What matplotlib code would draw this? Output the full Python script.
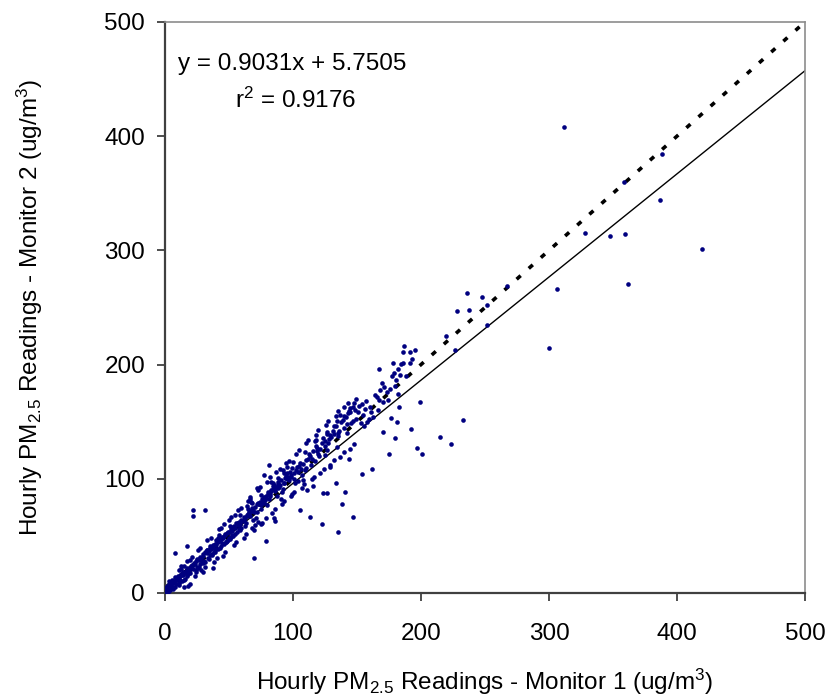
import matplotlib
matplotlib.use("Agg")
import matplotlib.pyplot as plt

plt.rcParams['font.family'] = ['Liberation Sans', 'DejaVu Sans']
plt.rcParams['mathtext.fontset'] = 'custom'
plt.rcParams['mathtext.rm'] = 'Liberation Sans'
plt.rcParams['mathtext.it'] = 'Liberation Sans:italic'

# Monitor 1 (x) vs Monitor 2 (y) hourly PM2.5
x_low = [0.4, 7.2, 13.5, 2.1, 18.7, 4.8, 10.9, 16.2, 1.3, 8.6,
         20.4, 5.9, 12.1, 3.3, 15.4, 9.7, 19.6, 6.5, 11.8, 0.9,
         14.3, 17.5, 2.7, 21.2, 7.9, 13.0, 4.1, 10.2, 16.9, 1.8,
         19.0, 6.1, 12.7, 8.9, 3.8, 15.8, 21.8, 5.3, 11.2, 17.9,
         9.3, 2.4, 14.8, 20.0, 6.9, 13.9, 0.6, 10.6, 18.3, 4.4,
         8.0, 17.0, 19.3, 21.6, 21.6, 31.0, 3.0, 12.4, 15.0, 7.5]
y_low = [1.2, 9.8, 16.1, 0.5, 20.9, 7.3, 8.4, 19.2, 3.6, 11.7,
         23.8, 3.1, 14.6, 6.2, 12.0, 13.1, 17.4, 8.8, 10.3, 4.9,
         18.5, 15.2, 1.8, 24.9, 5.6, 10.7, 9.0, 14.9, 21.6, 0.2,
         19.9, 5.1, 16.8, 7.6, 2.7, 17.7, 21.3, 11.4, 13.5, 18.0,
         12.6, 7.0, 11.1, 22.4, 9.4, 15.7, 2.3, 6.8, 16.4, 4.0,
         35.3, 41.4, 7.9, 72.7, 67.7, 72.7, 10.1, 21.0, 24.0, 14.0]

x_b = [22.7, 35.1, 48.3, 26.2, 57.4, 31.8, 44.0, 39.5, 23.9, 52.6,
       29.3, 41.7, 55.0, 34.4, 46.9, 27.6, 59.2, 37.8, 50.1, 24.8,
       43.3, 32.5, 56.1, 28.9, 47.6, 38.2, 53.9, 25.7, 40.6, 49.4,
       30.4, 58.3, 36.0, 45.2, 22.1, 51.7, 33.6, 42.8, 27.0, 54.5,
       39.0, 48.8, 31.1, 57.9, 36.7, 44.6, 24.3, 53.2, 29.8, 41.2,
       50.8, 35.6, 59.7, 26.8, 46.1, 38.7, 55.6, 32.9, 43.9, 23.4,
       52.1, 30.0, 47.2, 37.3, 58.8, 28.2, 40.1, 49.9, 34.0, 56.7,
       25.1, 45.7, 33.0, 51.3, 42.2, 28.5, 54.1, 36.4, 47.9, 30.9,
       57.0, 39.9, 24.5, 44.8, 52.9, 35.3, 26.5, 49.0, 41.4, 58.0]
y_b = [26.4, 33.2, 52.7, 22.9, 61.3, 35.7, 41.1, 46.3, 20.2, 50.4,
       33.8, 47.9, 56.8, 30.1, 51.5, 25.2, 63.7, 41.9, 48.0, 29.6,
       46.8, 37.4, 53.2, 27.1, 44.3, 35.9, 58.6, 21.6, 44.9, 53.1,
       28.4, 60.2, 40.7, 48.8, 24.5, 55.9, 31.0, 39.6, 31.7, 51.8,
       43.2, 45.6, 36.2, 62.5, 34.5, 49.3, 27.9, 57.4, 26.3, 45.0,
       47.7, 38.8, 57.1, 29.8, 43.0, 36.1, 60.9, 38.0, 47.5, 25.8,
       54.4, 32.6, 50.6, 39.2, 55.3, 30.7, 38.1, 53.7, 37.0, 59.9,
       22.4, 48.1, 35.0, 49.2, 45.9, 19.7, 57.9, 33.6, 44.7, 27.5,
       61.0, 42.4, 18.1, 43.5, 50.0, 39.4, 29.0, 46.4, 38.6, 56.2]

x_c = [60.8, 77.4, 92.1, 65.3, 84.7, 70.9, 97.6, 63.2, 88.0, 74.5,
       81.3, 67.8, 95.0, 72.2, 86.4, 61.9, 79.7, 90.6, 68.5, 83.0,
       98.8, 75.8, 64.4, 93.3, 80.1, 71.6, 87.2, 62.6, 96.4, 76.9,
       85.5, 69.1, 91.4, 66.7, 82.2, 73.8, 99.5, 78.6, 89.3, 63.9,
       94.2, 70.3, 84.0, 61.4, 77.0, 87.9, 66.1, 92.8, 74.9, 80.8,
       97.0, 68.0, 85.9, 72.7, 90.0, 64.8, 79.2, 95.7, 69.7, 82.7,
       88.6, 75.3, 62.2, 93.9, 78.1, 86.8, 67.2, 98.2, 73.2, 81.8,
       63.7, 66.5, 69.8, 69.8, 74.7, 79.0, 86.0, 83.2, 88.0, 92.0,
       71.5, 77.0, 81.5, 65.0, 73.0, 95.0, 99.0, 68.0, 85.0, 90.5]
y_c = [63.1, 84.3, 91.0, 71.2, 93.8, 66.0, 106.2, 61.0, 95.6, 79.8,
       81.9, 74.0, 99.7, 70.5, 92.2, 66.4, 77.3, 98.9, 63.5, 89.1,
       103.4, 82.6, 68.7, 96.1, 88.8, 78.3, 84.6, 58.6, 101.9, 80.0,
       94.5, 73.1, 88.2, 70.9, 86.3, 77.5, 109.1, 85.1, 92.9, 67.8,
       102.5, 75.6, 91.4, 64.3, 78.9, 97.3, 67.2, 96.0, 73.6, 87.0,
       99.2, 72.8, 89.7, 79.0, 94.8, 69.6, 83.4, 104.7, 71.0, 90.3,
       91.6, 76.7, 65.9, 100.8, 81.2, 93.0, 71.9, 101.2, 77.8, 84.9,
       76.0, 82.5, 31.0, 55.0, 60.5, 45.8, 63.3, 97.0, 101.0, 108.0,
       92.0, 103.5, 112.0, 73.5, 62.0, 110.5, 87.0, 79.0, 66.0, 82.0]

x_d = [100.6, 121.3, 138.9, 108.2, 146.5, 114.7, 129.0, 103.9, 133.6, 117.8,
       142.2, 110.5, 125.4, 136.1, 105.2, 148.8, 119.9, 131.3, 101.7, 140.0,
       113.0, 127.7, 144.4, 107.0, 123.5, 134.8, 111.9, 149.5, 118.4, 130.0,
       102.8, 145.3, 115.6, 126.2, 137.5, 109.3, 141.1, 120.6, 132.4, 104.5,
       147.6, 116.9, 128.5, 106.1, 139.6, 122.9, 112.3, 143.2, 135.1, 119.0,
       100.9, 124.8, 147.0, 109.9, 131.9, 114.0, 137.0, 126.9, 104.0, 144.9,
       105.5, 113.0, 122.4, 135.4, 138.0, 126.3, 123.4, 133.6, 140.6, 147.0,
       116.0, 129.0, 111.0, 144.0, 102.0, 118.0, 125.0, 134.0, 142.0, 107.5]
y_d = [104.9, 126.1, 151.8, 112.6, 163.2, 117.4, 138.0, 98.5, 145.9, 128.3,
       147.6, 109.8, 133.2, 142.1, 113.9, 160.1, 122.0, 141.6, 96.3, 155.0,
       120.3, 131.4, 158.4, 103.7, 135.5, 139.9, 117.0, 152.7, 127.1, 136.6,
       110.4, 149.0, 124.5, 139.1, 149.3, 107.3, 153.7, 119.6, 138.8, 111.2,
       166.0, 115.2, 134.6, 108.9, 144.7, 131.0, 121.8, 157.6, 137.3, 123.9,
       99.6, 128.8, 150.3, 116.7, 146.2, 112.1, 155.8, 125.5, 106.0, 161.9,
       72.7, 66.5, 60.4, 53.0, 78.0, 87.8, 87.8, 96.6, 88.4, 66.5,
       94.0, 110.0, 90.0, 117.0, 108.0, 134.0, 121.0, 128.0, 140.0, 99.0]

x_e = [150.5, 171.4, 158.1, 178.9, 153.7, 165.9, 182.3, 160.2, 175.6, 155.8,
       169.3, 184.6, 162.9, 151.9, 173.7, 157.2, 180.5, 166.7, 152.8, 177.1,
       163.8, 159.5, 170.2, 156.4, 168.1, 174.6, 161.3, 179.7, 154.9, 167.4,
       182.0, 184.0, 154.0, 162.0, 167.0, 175.0, 176.6, 180.0, 181.5, 183.0,
       185.7, 187.0, 191.4, 192.4, 197.0, 199.0, 201.0, 170.6, 185.7, 191.4,
       193.0, 195.5, 188.0, 178.0]
y_e = [158.3, 180.6, 149.9, 192.4, 165.1, 171.7, 196.0, 162.8, 178.2, 146.6,
       183.5, 200.3, 154.0, 163.7, 176.0, 168.4, 186.9, 160.0, 149.2, 189.6,
       173.1, 152.6, 166.9, 160.9, 177.7, 169.2, 158.7, 181.1, 155.5, 168.8,
       174.0, 190.5, 104.5, 108.9, 196.4, 121.7, 153.0, 136.0, 150.0, 163.0,
       210.8, 216.6, 210.8, 143.3, 126.7, 167.5, 121.7, 141.0, 201.0, 201.0,
       205.0, 213.0, 190.0, 201.0]

# looser points on both edges of the main band
x_wide = [12.3, 18.1, 25.4, 29.9, 33.2, 38.6, 41.9, 45.3, 49.7, 53.8,
          57.1, 61.5, 64.9, 68.2, 72.6, 76.0, 79.4, 83.8, 87.1, 91.5,
          94.8, 98.2, 102.6, 106.9, 110.3, 114.7, 118.0, 121.4, 125.8, 129.1,
          133.5, 136.8, 140.2, 144.6, 148.9, 14.7, 21.0, 27.3, 31.6, 36.0,
          40.3, 43.7, 47.0, 51.4, 55.8, 59.1, 63.5, 66.8, 70.2, 74.5,
          78.9, 82.2, 85.6, 89.9, 93.3, 96.7, 101.0, 104.4, 108.7, 112.1,
          116.5, 119.8, 124.2, 127.5, 131.9, 135.2, 139.6, 142.9, 147.3, 17.2,
          23.6, 34.9, 42.5, 50.8, 58.4, 67.5, 75.1, 84.3, 92.7, 100.0,
          109.6, 117.3, 126.9, 134.4, 143.8, 11.0, 19.5, 37.4, 46.2, 54.7]
y_wide = [24.0, 6.5, 37.9, 18.2, 46.5, 27.0, 56.3, 32.1, 63.9, 41.6,
          72.8, 48.0, 80.7, 56.9, 90.4, 61.2, 97.6, 70.4, 105.9, 78.0,
          113.4, 84.7, 121.9, 92.3, 131.0, 99.5, 138.6, 104.8, 147.5, 112.0,
          155.2, 118.9, 162.7, 126.4, 170.3, 5.2, 31.8, 39.6, 22.4, 47.9,
          30.6, 57.0, 36.2, 66.3, 44.5, 74.0, 51.7, 84.2, 59.3, 92.8,
          66.0, 101.3, 73.5, 108.2, 80.6, 116.0, 88.1, 125.3, 95.4, 134.2,
          101.9, 143.0, 109.0, 150.6, 116.8, 159.5, 123.3, 166.1, 130.5, 28.0,
          14.5, 41.5, 50.8, 58.9, 68.6, 79.3, 86.0, 96.7, 105.1, 114.3,
          123.8, 132.9, 141.0, 150.2, 159.0, 20.3, 29.1, 21.9, 60.1, 68.2]

x_high = [214.8, 223.4, 232.8, 219.5, 226.6, 227.9, 237.8, 236.0, 248.0, 251.6,
          251.6, 267.0, 306.0, 299.7, 311.7, 328.0, 347.6, 359.6, 358.6, 361.5,
          387.0, 388.0, 419.5]
y_high = [136.6, 130.5, 151.5, 225.0, 212.8, 246.9, 247.8, 262.7, 259.0, 234.7,
          252.0, 269.0, 266.0, 214.5, 408.0, 315.0, 313.0, 314.0, 360.0, 271.0,
          344.0, 384.0, 301.5]

slope = 0.9031
intercept = 5.7505
r_squared = 0.9176
axis_max = 500

monitor1 = x_low + x_b + x_c + x_d + x_e + x_wide + x_high
monitor2 = y_low + y_b + y_c + y_d + y_e + y_wide + y_high

fig = plt.figure(figsize=(8.3, 6.96), dpi=100)
ax = fig.add_axes([0.1988, 0.148, 0.771, 0.8204])

ax.scatter(monitor1, monitor2, s=11, color='#000080', marker='o', linewidths=0, zorder=3)

# regression fit and 1:1 line
fit_x = [0, axis_max]
fit_y = [intercept + slope * v for v in fit_x]
ax.plot(fit_x, fit_y, color='black', linewidth=1.0, zorder=2)
ax.plot([0, axis_max], [0, axis_max], color='black', linewidth=2.6,
        linestyle=(0, (1.5, 3.0)), zorder=2)

ax.set_xlim(0, axis_max)
ax.set_ylim(0, axis_max)
ax.set_xticks([0, 100, 200, 300, 400, 500])
ax.set_yticks([0, 100, 200, 300, 400, 500])
ax.tick_params(axis='both', direction='out', length=5.8, width=1.3,
               labelsize=17.5, color='#404040')
ax.tick_params(axis='x', pad=16)
ax.tick_params(axis='y', pad=8.6)

for side in ['left', 'bottom']:
    ax.spines[side].set_color('#404040')
    ax.spines[side].set_linewidth(1.6)
for side in ['top', 'right']:
    ax.spines[side].set_color('#8c8c8c')
    ax.spines[side].set_linewidth(1.2)

ax.set_xlabel('Hourly PM$_{2.5}$ Readings - Monitor 1 (ug/m$^3$)', fontsize=17.5, labelpad=15.5)
ax.set_ylabel('Hourly PM$_{2.5}$ Readings - Monitor 2 (ug/m$^3$)', fontsize=17.5, labelpad=43)

ax.text(10, 463, f'y = {slope}x + {intercept}', fontsize=17.5, va='center', ha='left')
ax.text(54.5, 431, f'r$^2$ = {r_squared}', fontsize=17.5, va='center', ha='left')

fig.savefig('out.png', dpi=100)
